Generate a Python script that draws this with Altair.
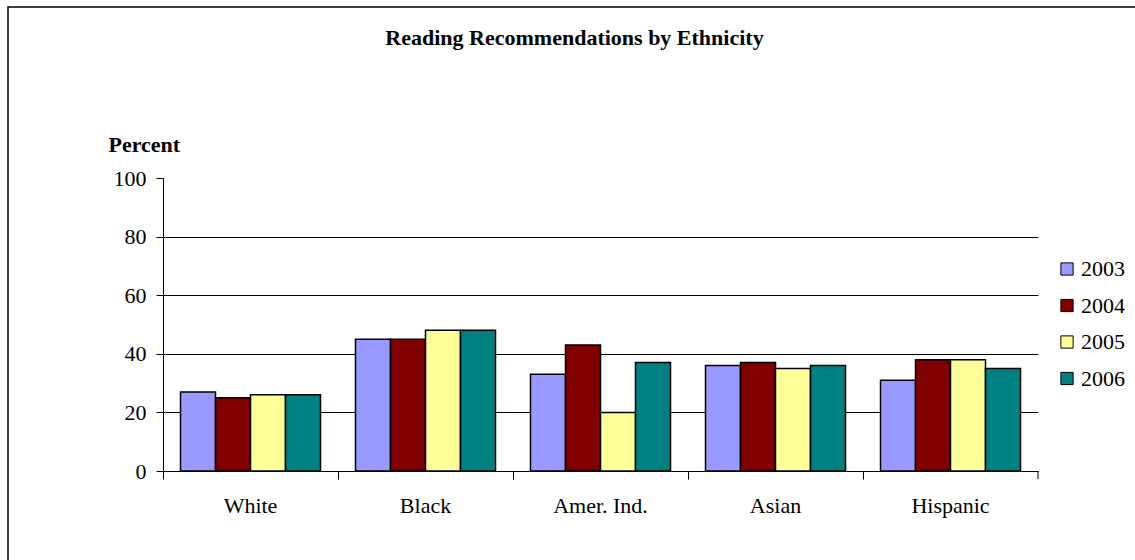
import altair as alt
import pandas as pd

# Percent of students recommended, by ethnic group and year
groups = ["White", "Black", "Amer. Ind.", "Asian", "Hispanic"]
years = ["2003", "2004", "2005", "2006"]
pct_2003 = [27, 45, 33, 36, 31]
pct_2004 = [25, 45, 43, 37, 38]
pct_2005 = [26, 48, 20, 35, 38]
pct_2006 = [26, 48, 37, 36, 35]
year_colors = ["#9999FF", "#800000", "#FFFF99", "#008080"]
y_ticks = [0, 20, 40, 60, 80, 100]

rows = []
for year, vals in zip(years, [pct_2003, pct_2004, pct_2005, pct_2006]):
    for g, v in zip(groups, vals):
        rows.append({"group": g, "year": year, "percent": v})
df = pd.DataFrame(rows)

W, H = 875, 293
FONT = "Liberation Serif"

bars = alt.Chart(df).mark_bar(stroke="black", strokeWidth=1.5).encode(
    x=alt.X(
        "group:N",
        sort=groups,
        scale=alt.Scale(paddingInner=0, paddingOuter=0),
        axis=alt.Axis(
            title=None,
            labelAngle=0,
            bandPosition=0,
            tickSize=8,
            tickColor="black",
            domainColor="black",
            labelFont=FONT,
            labelFontSize=22,
            labelColor="black",
            labelPadding=16,
            grid=False,
        ),
    ),
    xOffset=alt.XOffset(
        "year:N", sort=years, scale=alt.Scale(paddingInner=0, paddingOuter=0.5)
    ),
    y=alt.Y(
        "percent:Q",
        scale=alt.Scale(domain=[0, 100], nice=False),
        axis=alt.Axis(
            values=y_ticks,
            title="Percent",
            titleAngle=0,
            titleAlign="left",
            titleBaseline="alphabetic",
            titleX=-55,
            titleY=-27,
            titleFont=FONT,
            titleFontSize=22,
            titleFontWeight="bold",
            titleColor="black",
            labelFont=FONT,
            labelFontSize=22,
            labelColor="black",
            labelPadding=10,
            tickSize=7,
            tickColor="black",
            domainColor="black",
            grid=True,
            gridColor="black",
            gridWidth=1,
            gridOpacity={"condition": {"test": "datum.value === 100", "value": 0}, "value": 1},
        ),
    ),
    color=alt.Color(
        "year:N",
        sort=years,
        scale=alt.Scale(domain=years, range=year_colors),
        legend=alt.Legend(
            title=None,
            orient="none",
            legendX=893,
            legendY=80,
            symbolType="square",
            symbolSize=150,
            symbolStrokeColor="black",
            symbolStrokeWidth=1,
            labelFont=FONT,
            labelFontSize=22,
            labelColor="black",
            labelOffset=3,
            rowPadding=14.5,
        ),
    ),
)

# closing tick at the right end of the category axis
end_tick = alt.Chart(pd.DataFrame({"k": [0]})).mark_rule(color="black").encode(
    x=alt.value(W), y=alt.value(H), y2=alt.value(H + 8)
)

# outer chart frame
frame = alt.Chart(pd.DataFrame({"k": [0]})).mark_rect(
    fillOpacity=0, stroke="black", strokeWidth=1.5
).encode(
    x=alt.value(-155), y=alt.value(-171), x2=alt.value(W + 200), y2=alt.value(H + 200)
)

chart = (
    alt.layer(frame, bars, end_tick)
    .properties(
        width=W,
        height=H,
        title=alt.Title(
            "Reading Recommendations by Ethnicity",
            font=FONT,
            fontSize=22,
            fontWeight="bold",
            color="black",
            anchor="middle",
            baseline="alphabetic",
            dx=-26,
            dy=61,
            offset=0,
        ),
        autosize=alt.AutoSizeParams(type="none"),
        padding={"left": 163, "top": 178, "right": 97, "bottom": 89},
        background="white",
    )
    .configure(font=FONT)
    .configure_legend(labelFont=FONT)
    .configure_view(strokeWidth=0)
)

chart.save("out.html", embed_options={"renderer": "svg", "actions": False})
